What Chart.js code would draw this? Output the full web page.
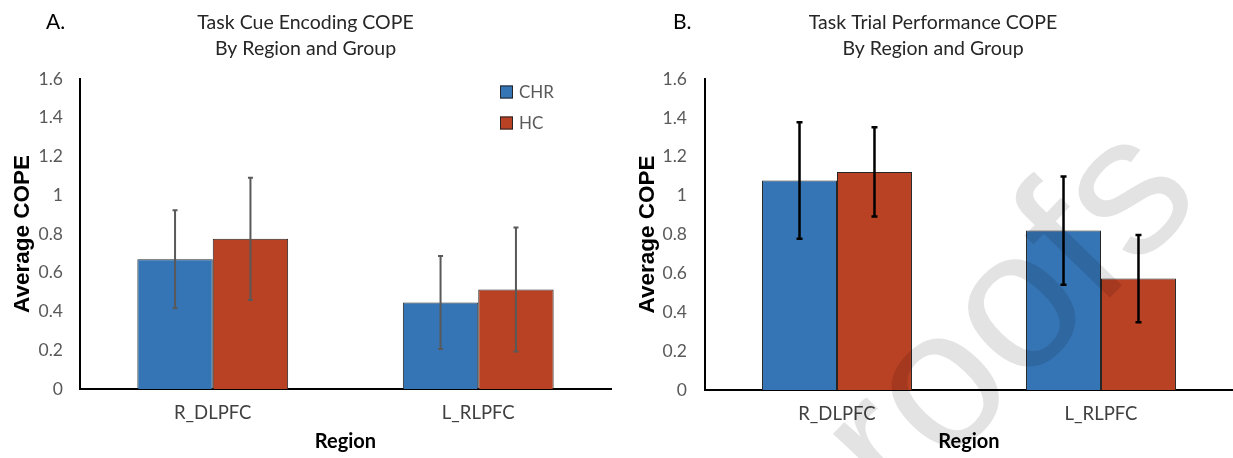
<!DOCTYPE html>
<html>
<head>
<meta charset="utf-8">
<script src="https://cdn.jsdelivr.net/npm/chart.js@4"></script>
<style>
  html, body { margin: 0; padding: 0; background: #fff; overflow: hidden; width: 1233px; height: 458px; }
  .panel { position: absolute; top: 0; height: 458px; }
  #panelA { left: 0; width: 620px; }
  #panelB { left: 633px; width: 600px; }
</style>
</head>
<body>
<div class="panel" id="panelA"><canvas id="chartA"></canvas></div>
<div class="panel" id="panelB"><canvas id="chartB"></canvas></div>
<script>
const regions = ["R_DLPFC", "L_RLPFC"];
const groups = ["CHR", "HC"];
const yMin = 0;
const yMax = 1.6;
const yStep = 0.2;

// A. task cue encoding (mean, +/- error)
const cueChr = [0.67, 0.447];
const cueHc = [0.775, 0.513];
const cueChrErr = [0.253, 0.24];
const cueHcErr = [0.315, 0.32];

// B. task trial performance
const trialChr = [1.078, 0.82];
const trialHc = [1.122, 0.573];
const trialChrErr = [0.30, 0.278];
const trialHcErr = [0.23, 0.225];

const BLUE = "#3574B5";
const RED = "#B94124";
const FONT = "Lato";

// vertical error bars drawn through the y scale
const errorBars = {
  id: "errorBars",
  afterDatasetsDraw(chart, args, opts) {
    const { ctx } = chart;
    const y = chart.scales.y;
    ctx.save();
    ctx.strokeStyle = opts.color;
    ctx.lineWidth = opts.width;
    chart.data.datasets.forEach((ds, i) => {
      const meta = chart.getDatasetMeta(i);
      meta.data.forEach((bar, j) => {
        const v = ds.data[j];
        const e = ds.errors[j];
        const top = y.getPixelForValue(v + e);
        const bot = y.getPixelForValue(v - e);
        ctx.beginPath();
        ctx.moveTo(bar.x, top);
        ctx.lineTo(bar.x, bot);
        ctx.moveTo(bar.x - opts.cap, top);
        ctx.lineTo(bar.x + opts.cap, top);
        ctx.moveTo(bar.x - opts.cap, bot);
        ctx.lineTo(bar.x + opts.cap, bot);
        ctx.stroke();
      });
    });
    ctx.restore();
  },
};

// panel letter, inside-plot legend and watermark
const extras = {
  id: "extras",
  afterDraw(chart, args, opts) {
    const { ctx } = chart;
    ctx.save();
    ctx.fillStyle = "#000";
    ctx.font = `21px ${FONT}`;
    ctx.textBaseline = "middle";
    ctx.textAlign = "left";
    ctx.fillText(opts.letter, opts.letterX, 22);

    if (opts.legend) {
      const { x, y, gap } = opts.legend;
      chart.data.datasets.forEach((ds, i) => {
        const cy = y + i * gap;
        ctx.fillStyle = ds.backgroundColor;
        ctx.fillRect(x, cy - 6.5, 13, 13);
        ctx.strokeStyle = "#262626";
        ctx.lineWidth = 1;
        ctx.strokeRect(x + 0.5, cy - 6, 12, 12);
        ctx.fillStyle = "#595959";
        ctx.font = `17px ${FONT}`;
        ctx.fillText(ds.label, x + 19, cy + 1);
      });
    }

    if (opts.watermark) {
      const w = opts.watermark;
      ctx.translate(w.x, w.y);
      ctx.rotate(-w.angle * Math.PI / 180);
      ctx.fillStyle = "rgba(0,0,0,0.11)";
      ctx.font = `${w.size}px "Liberation Sans", Arial, sans-serif`;
      ctx.textBaseline = "alphabetic";
      ctx.fillText(w.text, 0, 0);
    }
    ctx.restore();
  },
};

const makeConfig = (titleLines, chrVals, chrErr, hcVals, hcErr, layout) => ({
  type: "bar",
  data: {
    labels: regions,
    datasets: [
      { label: groups[0], data: chrVals, errors: chrErr, backgroundColor: BLUE, borderColor: "#262626", borderWidth: 1 },
      { label: groups[1], data: hcVals, errors: hcErr, backgroundColor: RED, borderColor: "#262626", borderWidth: 1 },
    ],
  },
  options: {
    responsive: true,
    maintainAspectRatio: false,
    animation: false,
    layout: { padding: { left: 0, right: layout.padRight, top: 0, bottom: 0 } },
    datasets: { bar: { barPercentage: 1, categoryPercentage: 0.568 } },
    plugins: {
      legend: { display: false },
      tooltip: { enabled: false },
      title: {
        display: true,
        text: titleLines,
        color: "#262626",
        font: { family: FONT, size: 19.5, weight: "normal", lineHeight: 26 / 19.5 },
        padding: { top: 10, bottom: 17 },
      },
      errorBars: layout.errorBars,
      extras: layout.extras,
    },
    scales: {
      x: {
        grid: { display: false, drawTicks: false },
        border: { display: true, color: "#000", width: 2 },
        ticks: { color: "#404040", font: { family: FONT, size: 18.5 }, padding: 13 },
        title: {
          display: true,
          text: "Region",
          color: "#000",
          font: { family: FONT, size: 20, weight: "bold" },
          padding: { top: 0, bottom: 4 },
        },
        afterFit: (s) => { s.height = layout.xHeight; },
      },
      y: {
        min: yMin,
        max: yMax,
        grid: { display: false, drawTicks: false },
        border: { display: true, color: "#000", width: 2 },
        ticks: {
          stepSize: yStep,
          color: "#595959",
          font: { family: FONT, size: 17.5 },
          padding: layout.tickPad,
          callback: (v) => String(Number(v.toFixed(1))),
        },
        title: {
          display: true,
          text: "Average COPE",
          color: "#000",
          font: { family: "Liberation Sans", size: 22.5, weight: "bold" },
          padding: { top: layout.yTitlePad, bottom: 0 },
        },
        afterFit: (s) => { s.width = layout.yWidth; },
      },
    },
  },
  plugins: [errorBars, extras],
});

new Chart(document.getElementById("chartA"), makeConfig(
  ["Task Cue Encoding COPE", "By Region and Group"],
  cueChr, cueChrErr, cueHc, cueHcErr,
  {
    padRight: 9, xHeight: 69, yWidth: 80, tickPad: 17, yTitlePad: 9,
    errorBars: { color: "#595959", width: 2, cap: 2.5 },
    extras: { letter: "A.", letterX: 46, legend: { x: 500, y: 92, gap: 31 } },
  }
));

new Chart(document.getElementById("chartB"), makeConfig(
  ["Task Trial Performance COPE", "By Region and Group"],
  trialChr, trialChrErr, trialHc, trialHcErr,
  {
    padRight: 0, xHeight: 68, yWidth: 72, tickPad: 18, yTitlePad: 1,
    errorBars: { color: "#000", width: 2.5, cap: 3 },
    extras: { letter: "B.", letterX: 40, watermark: { text: "roofs", x: 266, y: 516, size: 198, angle: 46 } },
  }
));
</script>
</body>
</html>
